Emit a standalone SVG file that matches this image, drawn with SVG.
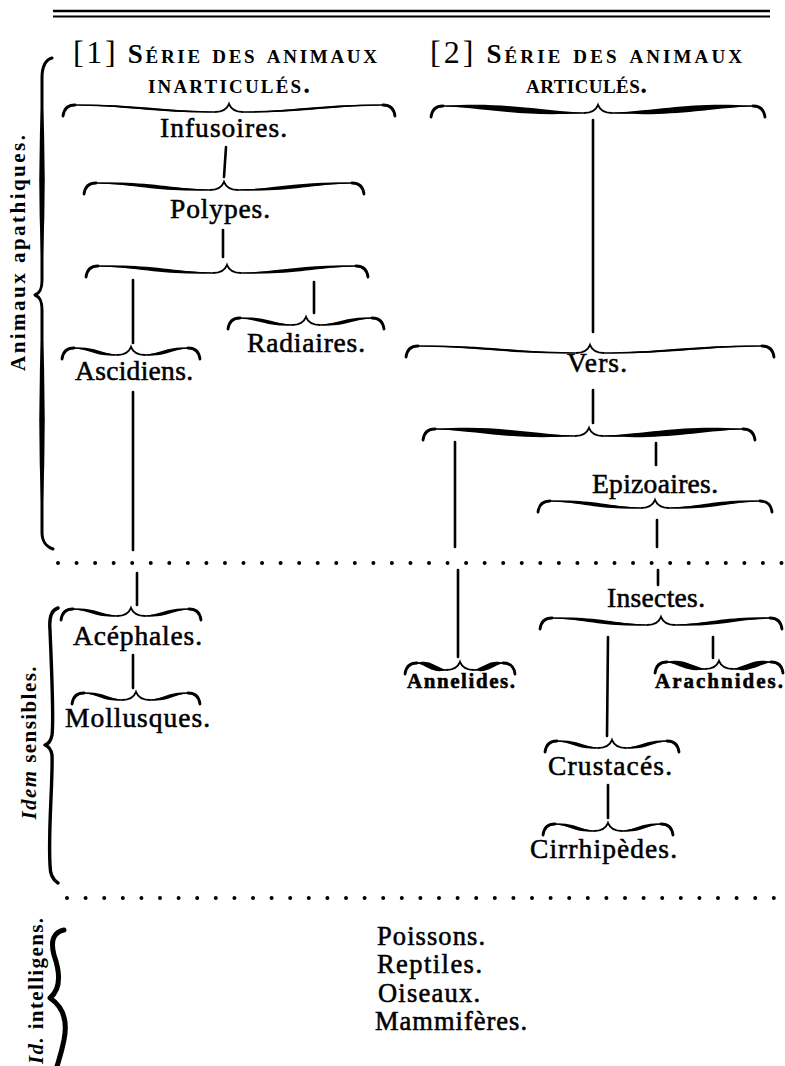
<svg xmlns="http://www.w3.org/2000/svg" width="785" height="1066" viewBox="0 0 785 1066">
<style>
text{font-family:"Liberation Serif","DejaVu Serif",serif;fill:#000}
.lbl{font-size:27.5px;stroke:#000;stroke-width:0.55}
.sm{font-size:21px;font-weight:bold}
.vt{font-size:26.5px}
.hdr{font-size:27px;font-weight:bold;font-variant:small-caps}
.side{font-size:21px;font-weight:bold}
.ln{stroke:#000;stroke-width:2.6;stroke-linecap:round;fill:none}
.cl{stroke:#000;stroke-width:1.6;fill:none}
.hk{stroke:#000;stroke-width:2.8;stroke-linecap:round;fill:none}
.tp{stroke:#000;stroke-width:2;fill:none}
.dots{stroke:#000;stroke-width:4;stroke-linecap:round;fill:none}
.vb{stroke:#000;fill:none;stroke-linecap:round;stroke-linejoin:round}
</style>
<defs>
<path id="hk" class="hk" d="M0,1 C-7,1 -11,4 -12,12"/>
<path id="tip" class="tp" d="M-14,8 C-7,8 -2,5 0,0 C2,5 7,8 14,8"/>
<g id="arm1"><path d="M0,1 C40,-0.5 60,6.5 100,8 C60,9.5 40,2.5 0,1Z"/><path class="cl" d="M0,1 C40,1 60,8 100,8"/></g>
<g id="arm2"><path d="M0,1 C40,-1.5 60,5.5 100,8 C60,10.5 40,3.5 0,1Z"/><path class="cl" d="M0,1 C40,1 60,8 100,8"/></g>
<g id="arm3"><path d="M0,1 C40,-3 60,4 100,8 C60,12 40,5 0,1Z"/><path class="cl" d="M0,1 C40,1 60,8 100,8"/></g>
</defs>
<rect width="785" height="1066" fill="#fff"/>

<g id="separators">
<line x1="53" y1="11" x2="770" y2="11" stroke="#000" stroke-width="2.4"/>
<line x1="53" y1="16.5" x2="770" y2="16.5" stroke="#000" stroke-width="2"/>
<line class="dots" x1="58" y1="563" x2="784" y2="563" stroke-dasharray="0 18.55"/>
<line class="dots" x1="67" y1="898" x2="784" y2="898" stroke-dasharray="0 18.6"/>
</g>

<g id="side-apathiques">
<path class="vb" stroke-width="3" d="M52,58 C45,60 42,66 42,78 L42,280 C42,289 40,293 35,295 C40,297 42,301 42,310 L42,532 C42,541 45,546 53,549"/>
<path d="M42,85 Q47.5,180 42,275 Q36.5,180 42,85Z"/>
<path d="M42,315 Q47.5,420 42,525 Q36.5,420 42,315Z"/>
<text class="side" transform="translate(18,253) rotate(-90)" x="0" y="7" text-anchor="middle" textLength="236">Animaux apathiques.</text>
</g>
<g id="side-sensibles">
<path class="vb" stroke-width="3.4" d="M58,608 C51,610 49,618 50,630 C52,680 54,720 52,735 C51,741 48,744 45,745 C48,746 51,749 52,755 C53,780 48,830 50,865 C50,875 53,880 58,883"/>
<text class="side" transform="translate(29,743) rotate(-90)" x="0" y="7" text-anchor="middle" textLength="153"><tspan font-style="italic">Idem</tspan> sensibles.</text>
</g>
<g id="side-intelligens">
<path class="vb" stroke-width="5" d="M64,930 C54,932 50,940 54,955 C60,972 62,988 50,998 C62,1006 68,1020 64,1040 C61,1055 58,1062 56,1070"/>
<text class="side" transform="translate(36,991) rotate(-90)" x="0" y="7" text-anchor="middle" textLength="146"><tspan font-style="italic">Id.</tspan> intelligens.</text>
</g>

<g id="header-1">
<text class="hdr" x="73" y="63" textLength="304"><tspan font-size="32" font-weight="normal">[1]</tspan> Série des animaux</text>
<text class="hdr" x="148" y="93" textLength="162">inarticulés.</text>
</g>
<g id="header-2">
<text class="hdr" x="430" y="63" textLength="312"><tspan font-size="32" font-weight="normal">[2]</tspan> Série des animaux</text>
<text class="hdr" x="526" y="93" textLength="121">articulés.</text>
</g>

<g id="connectors">
<line class="ln" x1="226" y1="147" x2="224" y2="177"/>
<line class="ln" x1="223" y1="230" x2="223" y2="257"/>
<line class="ln" x1="133" y1="280" x2="133" y2="343"/>
<line class="ln" x1="314" y1="282" x2="314" y2="313"/>
<line class="ln" x1="133" y1="392" x2="133" y2="550"/>
<line class="ln" x1="137" y1="573" x2="137" y2="605"/>
<line class="ln" x1="133" y1="655" x2="133" y2="688"/>
<line class="ln" x1="593" y1="120" x2="593" y2="332"/>
<line class="ln" x1="593" y1="390" x2="593" y2="423"/>
<line class="ln" x1="455" y1="442" x2="455" y2="547"/>
<line class="ln" x1="656" y1="443" x2="656" y2="465"/>
<line class="ln" x1="657" y1="520" x2="657" y2="547"/>
<line class="ln" x1="658" y1="570" x2="658" y2="585"/>
<line class="ln" x1="458" y1="570" x2="458" y2="657"/>
<line class="ln" x1="608" y1="637" x2="607" y2="736"/>
<line class="ln" x1="713" y1="637" x2="713" y2="658"/>
<line class="ln" x1="608" y1="785" x2="608" y2="818"/>
<g id="brace-polypes-split">
<use href="#hk" transform="translate(98,265)"/>
<use href="#arm2" transform="translate(98,265) scale(1.15,1)"/>
<use href="#tip" transform="translate(227,265)"/>
<use href="#arm2" transform="translate(356,265) scale(-1.15,1)"/>
<use href="#hk" transform="translate(356,265) scale(-1,1)"/>
</g>
<g id="brace-articules">
<use href="#hk" transform="translate(443,105)"/>
<use href="#arm3" transform="translate(443,105) scale(1.41,1)"/>
<use href="#tip" transform="translate(598,105)"/>
<use href="#arm3" transform="translate(753,105) scale(-1.41,1)"/>
<use href="#hk" transform="translate(753,105) scale(-1,1)"/>
</g>
<g id="brace-vers-split">
<use href="#hk" transform="translate(435,428)"/>
<use href="#arm3" transform="translate(435,428) scale(1.40,1)"/>
<use href="#tip" transform="translate(589,428)"/>
<use href="#arm3" transform="translate(743,428) scale(-1.40,1)"/>
<use href="#hk" transform="translate(743,428) scale(-1,1)"/>
</g>
</g>

<g id="infusoires">
<use href="#hk" transform="translate(75,104)"/>
<use href="#arm1" transform="translate(75,104) scale(1.40,1)"/>
<use href="#tip" transform="translate(229,104)"/>
<use href="#arm1" transform="translate(383,104) scale(-1.40,1)"/>
<use href="#hk" transform="translate(383,104) scale(-1,1)"/>
<text class="lbl" x="160" y="137" textLength="127">Infusoires.</text>
</g>
<g id="polypes">
<use href="#hk" transform="translate(96,182)"/>
<use href="#arm2" transform="translate(96,182) scale(1.14,1)"/>
<use href="#tip" transform="translate(224,182)"/>
<use href="#arm2" transform="translate(352,182) scale(-1.14,1)"/>
<use href="#hk" transform="translate(352,182) scale(-1,1)"/>
<text class="lbl" x="170" y="218" textLength="100">Polypes.</text>
</g>
<g id="radiaires">
<use href="#hk" transform="translate(240,317)"/>
<use href="#arm2" transform="translate(240,317) scale(0.52,1)"/>
<use href="#tip" transform="translate(306,317)"/>
<use href="#arm2" transform="translate(372,317) scale(-0.52,1)"/>
<use href="#hk" transform="translate(372,317) scale(-1,1)"/>
<text class="lbl" x="247" y="352" textLength="118">Radiaires.</text>
</g>
<g id="ascidiens">
<use href="#hk" transform="translate(74,347)"/>
<use href="#arm2" transform="translate(74,347) scale(0.43,1)"/>
<use href="#tip" transform="translate(131,347)"/>
<use href="#arm2" transform="translate(188,347) scale(-0.43,1)"/>
<use href="#hk" transform="translate(188,347) scale(-1,1)"/>
<text class="lbl" x="75" y="380" textLength="118">Ascidiens.</text>
</g>
<g id="acephales">
<use href="#hk" transform="translate(73,608)"/>
<use href="#arm2" transform="translate(73,608) scale(0.44,1)"/>
<use href="#tip" transform="translate(131,608)"/>
<use href="#arm2" transform="translate(189,608) scale(-0.44,1)"/>
<use href="#hk" transform="translate(189,608) scale(-1,1)"/>
<text class="lbl" x="73" y="645" textLength="129">Acéphales.</text>
</g>
<g id="mollusques">
<use href="#hk" transform="translate(84,692)"/>
<use href="#arm2" transform="translate(84,692) scale(0.38,1)"/>
<use href="#tip" transform="translate(136,692)"/>
<use href="#arm2" transform="translate(188,692) scale(-0.38,1)"/>
<use href="#hk" transform="translate(188,692) scale(-1,1)"/>
<text class="lbl" x="65" y="727" textLength="145">Mollusques.</text>
</g>
<g id="vers">
<use href="#hk" transform="translate(418,345)"/>
<use href="#arm1" transform="translate(418,345) scale(1.58,1)"/>
<use href="#tip" transform="translate(590,345)"/>
<use href="#arm1" transform="translate(762,345) scale(-1.58,1)"/>
<use href="#hk" transform="translate(762,345) scale(-1,1)"/>
<text class="lbl" x="567" y="372" textLength="60">Vers.</text>
</g>
<g id="epizoaires">
<text class="lbl" x="592" y="493" textLength="126">Epizoaires.</text>
<use href="#hk" transform="translate(550,500)"/>
<use href="#arm2" transform="translate(550,500) scale(0.91,1)"/>
<use href="#tip" transform="translate(655,500)"/>
<use href="#arm2" transform="translate(760,500) scale(-0.91,1)"/>
<use href="#hk" transform="translate(760,500) scale(-1,1)"/>
</g>
<g id="insectes">
<text class="lbl" x="607" y="607" textLength="98">Insectes.</text>
<use href="#hk" transform="translate(552,617)"/>
<use href="#arm2" transform="translate(552,617) scale(0.95,1)"/>
<use href="#tip" transform="translate(661,617)"/>
<use href="#arm2" transform="translate(770,617) scale(-0.95,1)"/>
<use href="#hk" transform="translate(770,617) scale(-1,1)"/>
</g>
<g id="annelides">
<use href="#hk" transform="translate(417,662)"/>
<use href="#arm3" transform="translate(417,662) scale(0.29,1)"/>
<use href="#tip" transform="translate(460,662)"/>
<use href="#arm3" transform="translate(503,662) scale(-0.29,1)"/>
<use href="#hk" transform="translate(503,662) scale(-1,1)"/>
<text class="lbl sm" x="407" y="688" textLength="108">Annelides.</text>
</g>
<g id="arachnides">
<use href="#hk" transform="translate(667,661)"/>
<use href="#arm3" transform="translate(667,661) scale(0.38,1)"/>
<use href="#tip" transform="translate(719,661)"/>
<use href="#arm3" transform="translate(771,661) scale(-0.38,1)"/>
<use href="#hk" transform="translate(771,661) scale(-1,1)"/>
<text class="lbl sm" x="655" y="688" textLength="128">Arachnides.</text>
</g>
<g id="crustaces">
<use href="#hk" transform="translate(557,740)"/>
<use href="#arm2" transform="translate(557,740) scale(0.41,1)"/>
<use href="#tip" transform="translate(612,740)"/>
<use href="#arm2" transform="translate(667,740) scale(-0.41,1)"/>
<use href="#hk" transform="translate(667,740) scale(-1,1)"/>
<text class="lbl" x="548" y="775" textLength="124">Crustacés.</text>
</g>
<g id="cirrhipedes">
<use href="#hk" transform="translate(555,823)"/>
<use href="#arm2" transform="translate(555,823) scale(0.39,1)"/>
<use href="#tip" transform="translate(608,823)"/>
<use href="#arm2" transform="translate(661,823) scale(-0.39,1)"/>
<use href="#hk" transform="translate(661,823) scale(-1,1)"/>
<text class="lbl" x="530" y="858" textLength="147">Cirrhipèdes.</text>
</g>
<g id="vertebres">
<text class="lbl vt" x="377" y="945" textLength="108">Poissons.</text>
<text class="lbl vt" x="377" y="973" textLength="105">Reptiles.</text>
<text class="lbl vt" x="378" y="1002" textLength="102">Oiseaux.</text>
<text class="lbl vt" x="375" y="1030" textLength="152">Mammifères.</text>
</g>
</svg>
